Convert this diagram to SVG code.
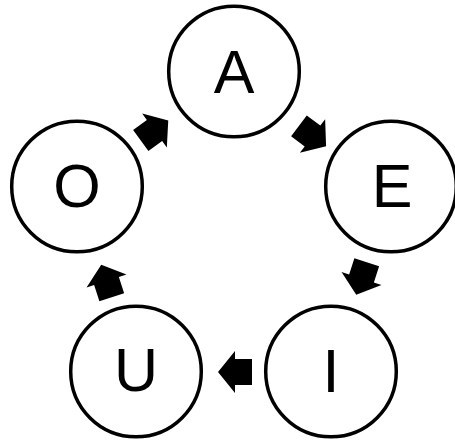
<svg xmlns="http://www.w3.org/2000/svg" width="455" height="442" viewBox="0 0 455 442">
<defs>
<style>
.node circle{fill:#fff;stroke:#000;stroke-width:3.5}
.node text{font-family:"Liberation Sans",Arial,sans-serif;font-size:61px;fill:#000;text-anchor:middle}
.arrow{fill:#000;stroke:none}
</style>
<path id="blk" d="M17,0 L0,-21 L0,-13 L-17,-13 L-17,13 L0,13 L0,21 Z"/>
</defs>
<rect width="455" height="442" fill="#fff"/>
<g id="connectors" class="arrow">
<use href="#blk" transform="translate(312.5,136) rotate(37)"/>
<use href="#blk" transform="translate(361.5,278.5) rotate(108)"/>
<use href="#blk" transform="translate(235,372) rotate(180)"/>
<use href="#blk" transform="translate(106.5,281) rotate(252)"/>
<use href="#blk" transform="translate(154.5,130.5) rotate(-36)"/>
</g>
<g id="node-A" class="node"><circle cx="234" cy="71.5" r="65.3"/><text x="234" y="93.3">A</text></g>
<g id="node-E" class="node"><circle cx="391" cy="186.5" r="65.3"/><text x="392" y="207">E</text></g>
<g id="node-I" class="node"><circle cx="331" cy="371.5" r="65.3"/><text x="331" y="392">I</text></g>
<g id="node-U" class="node"><circle cx="136" cy="371.5" r="65.3"/><text x="136" y="391">U</text></g>
<g id="node-O" class="node"><circle cx="77" cy="186.5" r="65.3"/><text x="77" y="207">O</text></g>
</svg>
